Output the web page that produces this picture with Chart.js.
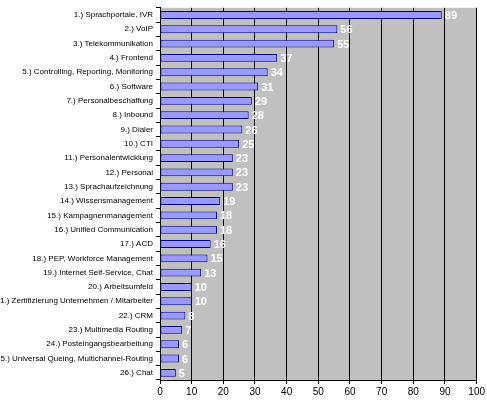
<!DOCTYPE html>
<html><head><meta charset="utf-8">
<script src="https://cdn.jsdelivr.net/npm/chart.js@4"></script>
<style>html,body{margin:0;background:#fff}#wrap{width:487px;height:400px}</style>
</head><body><div id="wrap"><canvas id="c"></canvas></div>
<script>
const categories = ['1.) Sprachportale, IVR','2.) VoIP','3.) Telekommunikation','4.) Frontend',
  '5.) Controlling, Reporting, Monitoring','6.) Software','7.) Personalbeschaffung','8.) Inbound',
  '9.) Dialer','10.) CTI','11.) Personalentwicklung','12.) Personal','13.) Sprachaufzeichnung',
  '14.) Wissensmanagement','15.) Kampagnenmanagement','16.) Unified Communication','17.) ACD',
  '18.) PEP, Workforce Management','19.) Internet Self-Service, Chat','20.) Arbeitsumfeld',
  '21.) Zertifizierung Unternehmen / Mitarbeiter','22.) CRM','23.) Multimedia Routing',
  '24.) Posteingangsbearbeitung','25.) Universal Queing, Multichannel-Routing','26.) Chat'];
const values = [89,56,55,37,34,31,29,28,26,25,23,23,23,19,18,18,16,15,13,10,10,8,7,6,6,5];
const xTicks = [0,10,20,30,40,50,60,70,80,90,100];

const bgPlugin = {
  id: 'bg',
  beforeDraw(chart) {
    const a = chart.chartArea, ctx = chart.ctx;
    ctx.save(); ctx.fillStyle = '#c0c0c0';
    ctx.fillRect(a.left, a.top, a.right - a.left, a.bottom - a.top);
    ctx.restore();
  },
  afterDatasetsDraw(chart) {
    const ctx = chart.ctx;
    ctx.save();
    ctx.fillStyle = '#ffffff';
    ctx.font = 'bold 11px "Liberation Sans", Arial';
    ctx.textBaseline = 'middle';
    chart.getDatasetMeta(0).data.forEach((bar, i) => {
      ctx.fillText(values[i], bar.x + 3, bar.y + 1);
    });
    ctx.restore();
  }
};

new Chart(document.getElementById('c'), {
  type: 'bar',
  data: {
    labels: categories,
    datasets: [{
      data: values,
      backgroundColor: '#9999ff',
      borderColor: '#000080',
      borderWidth: 1,
      borderSkipped: false,
      categoryPercentage: 0.55,
      barPercentage: 1
    }]
  },
  options: {
    indexAxis: 'y',
    responsive: true,
    maintainAspectRatio: false,
    animation: false,
    layout: { padding: { top: 3, right: 7, left: 0, bottom: 0 } },
    plugins: { legend: { display: false }, tooltip: { enabled: false } },
    scales: {
      x: {
        min: 0, max: 100,
        afterBuildTicks(s) { s.ticks = xTicks.map(v => ({ value: v })); },
        grid: { color: '#000', lineWidth: 1, drawTicks: true, tickLength: 4 },
        border: { color: '#000' },
        ticks: { color: '#000', font: { family: '"Liberation Sans", Arial', size: 10 }, maxRotation: 0, padding: 2 }
      },
      y: {
        afterFit(s) { s.width = 160; },
        grid: { display: true, drawOnChartArea: false, offset: true, color: '#000', tickLength: 4 },
        border: { color: '#000' },
        ticks: { color: '#000', font: { family: '"Liberation Sans", Arial', size: 8 }, padding: 3, autoSkip: false }
      }
    }
  },
  plugins: [bgPlugin]
});
</script></body></html>
